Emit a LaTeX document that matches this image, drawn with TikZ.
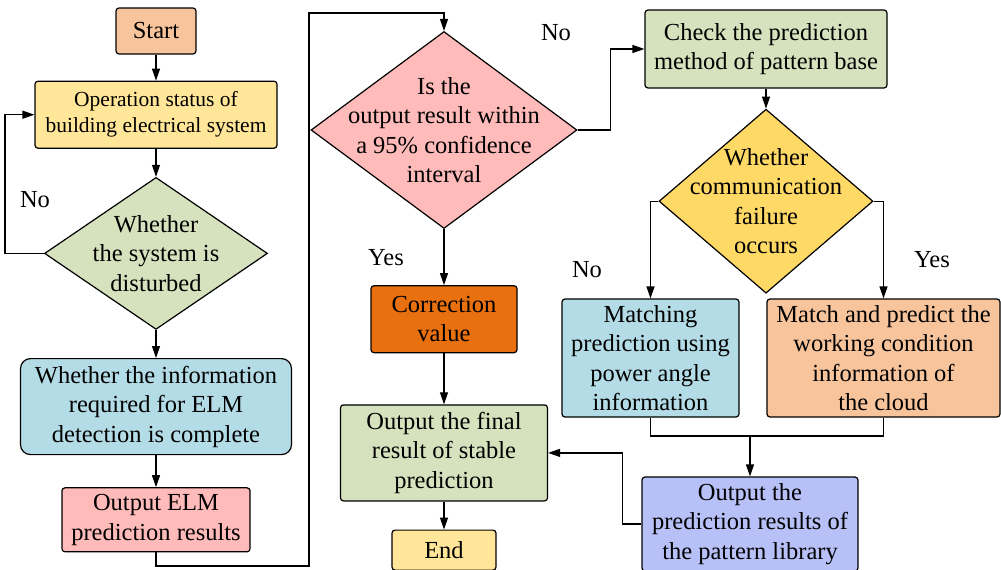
\documentclass[tikz,border=0pt]{standalone}
\usepackage{fontspec}
\setmainfont{Liberation Serif}
\usetikzlibrary{arrows.meta,positioning,shapes.geometric,calc}
\definecolor{peach}{HTML}{F8C49C}
\definecolor{butter}{HTML}{FFE699}
\definecolor{sage}{HTML}{D6E2BE}
\definecolor{sky}{HTML}{B4DCE6}
\definecolor{rose}{HTML}{FFBABA}
\definecolor{rust}{HTML}{E9700F}
\definecolor{gold}{HTML}{FFD966}
\definecolor{lilac}{HTML}{B8C0F8}
\tikzset{
    box/.style={
        draw,
        rounded corners=3pt,
        align=center,
        inner sep=0pt,
        line width=1.2pt,
        font=\fontsize{24.5}{29.5}\selectfont
    },
    decision/.style={
        draw,
        diamond,
        inner sep=0pt,
        line width=1.2pt
    },
    inside/.style={
        align=center,
        inner sep=0pt,
        font=\fontsize{24.5}{29.5}\selectfont
    },
    flow/.style={-{Triangle[length=12pt,width=8pt]}, line width=1.2pt},
    link/.style={line width=1.2pt},
    tag/.style={inner sep=0pt, font=\fontsize{24.5}{28}\selectfont}
}

\begin{document}
\begin{tikzpicture}[x=1pt,y=-1pt,node distance=26pt]
        \useasboundingbox (0,0) rectangle (1001,570);

        % left column
        \node[box, fill=peach, minimum width=80pt, minimum height=46pt] (start) at (156,31) {Start};
        \node[box, fill=butter, minimum width=242pt, minimum height=67pt,
              font=\fontsize{21.5}{26}\selectfont, below=26pt of start] (status)
              {Operation status of\\building electrical system};
        \node[decision, fill=sage, minimum width=223pt, minimum height=152pt, below=28pt of status] (disturb) {};
        \node[inside] (disturbtxt) at (disturb) {Whether\\the system is\\disturbed};
        \node[box, fill=sky, rounded corners=10pt, minimum width=271pt, minimum height=96pt, below=28pt of disturb] (info)
              {Whether the information\\required for ELM\\detection is complete};
        \node[box, fill=rose, minimum width=188pt, minimum height=64pt, below=32pt of info] (elmout)
              {Output ELM\\prediction results};

        % middle column
        \node[decision, fill=rose, minimum width=266pt, minimum height=197pt] (conf) at (444,130) {};
        \node[inside] (conftxt) at (conf) {Is the\\output result within\\a 95\% confidence\\interval};
        \node[box, fill=rust, minimum width=146pt, minimum height=67pt, below=56pt of conf] (correct)
              {Correction\\value};
        \node[box, fill=sage, minimum width=207pt, minimum height=96pt, below=51pt of correct] (final)
              {Output the final\\result of stable\\prediction};
        \node[box, fill=butter, minimum width=104pt, minimum height=40pt, below=28pt of final] (end) {End};

        % right column
        \node[box, fill=sage, minimum width=242pt, minimum height=78pt] (check) at (766,49)
              {Check the prediction\\method of pattern base};
        \node[decision, fill=gold, minimum width=214pt, minimum height=184pt, below=20pt of check] (comm) {};
        \node[inside] (commtxt) at (comm) {Whether\\communication\\failure\\occurs};
        \node[box, fill=sky, minimum width=177pt, minimum height=118pt] (match) at (650.5,358)
              {Matching\\prediction using\\power angle\\information};
        \node[box, fill=peach, minimum width=233pt, minimum height=118pt] (cloud) at (883.5,358)
              {Match and predict the\\working condition\\information of\\the cloud};
        \node[box, fill=lilac, minimum width=216pt, minimum height=94pt] (pattern) at (750,524)
              {Output the\\prediction results of\\the pattern library};

        % labels
        \node[tag] (no1) at (35,200) {No};
        \node[tag] (no2) at (556,33) {No};
        \node[tag] (yes1) at (386,258) {Yes};
        \node[tag] (no3) at (587,270) {No};
        \node[tag] (yes2) at (932,260) {Yes};

        \coordinate (low) at (309,566);
        \coordinate (high) at (309,13);
        \coordinate (join) at (750,436);

        \draw[flow] (start) -- (status);
        \draw[flow] (status) -- (disturb);
        \draw[flow] (disturb.west) -- ++(-39,0) |- (status.west);
        \draw[flow] (disturb) -- (info);
        \draw[flow] (info) -- (elmout);
        \draw[flow] (elmout.south) |- (low) -- (high) -| (conf.north);
        \draw[flow] (conf) -- (correct);
        \draw[flow] (correct) -- (final);
        \draw[flow] (final) -- (end);
        \draw[flow] (conf.east) -- ++(33,0) |- (check.west);
        \draw[flow] (check) -- (comm);
        \draw[flow] (comm.west) -| (match.north);
        \draw[flow] (comm.east) -| (cloud.north);
        \draw[link] (match.south) |- (join) -| (cloud.south);
        \draw[flow] (join) -- (pattern);
        \draw[flow] (pattern.west) -- ++(-19,0) |- (final.east);
    \end{tikzpicture}
\end{document}
